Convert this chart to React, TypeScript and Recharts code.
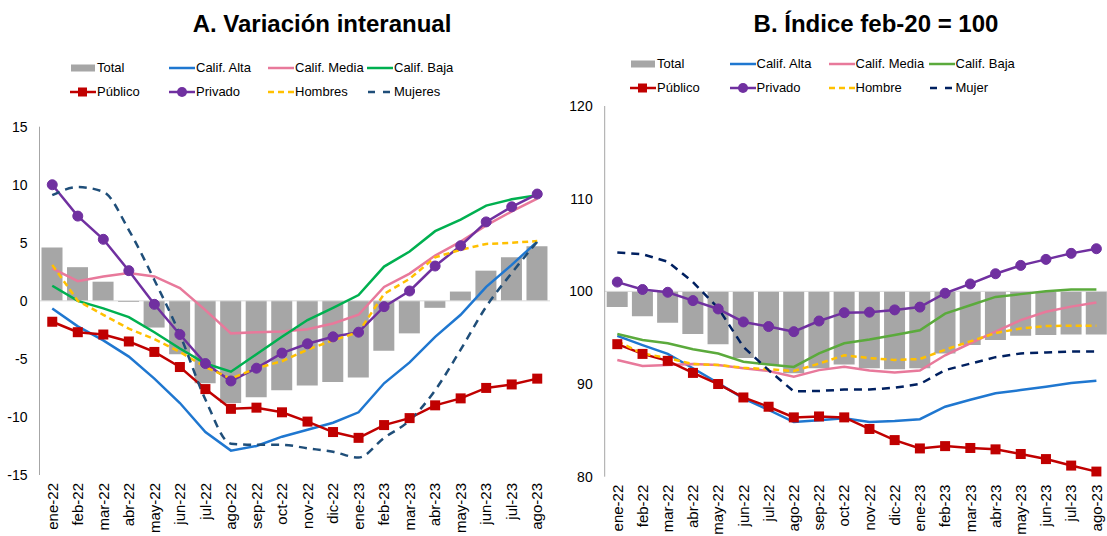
import React from 'react'
import { ComposedChart, Bar, Line, XAxis, YAxis, ReferenceLine } from 'recharts'

const months = ['ene-22', 'feb-22', 'mar-22', 'abr-22', 'may-22', 'jun-22', 'jul-22', 'ago-22', 'sep-22', 'oct-22', 'nov-22', 'dic-22', 'ene-23', 'feb-23', 'mar-23', 'abr-23', 'may-23', 'jun-23', 'jul-23', 'ago-23']

// A. Variación interanual
const totalA = [4.6, 2.9, 1.65, -0.1, -2.3, -4.6, -7.1, -8.8, -8.3, -7.7, -7.3, -7.0, -6.6, -4.3, -2.8, -0.6, 0.8, 2.6, 3.75, 4.7]
const altaA = [-0.65, -2.2, -3.4, -4.8, -6.7, -8.8, -11.3, -12.9, -12.5, -11.7, -11.1, -10.5, -9.6, -7.1, -5.3, -3.1, -1.2, 1.2, 3.1, 5.1]
const mediaA = [2.8, 1.7, 2.1, 2.4, 2.1, 1.1, -0.8, -2.8, -2.7, -2.65, -2.45, -1.95, -1.2, 1.2, 2.35, 3.9, 5.1, 6.5, 7.7, 8.8]
const bajaA = [1.3, 0, -0.65, -1.4, -2.7, -4.1, -5.4, -6.1, -4.6, -3.1, -1.65, -0.6, 0.5, 2.95, 4.25, 6.0, 7.0, 8.2, 8.75, 9.1]
const publicoA = [-1.8, -2.7, -2.9, -3.5, -4.4, -5.7, -7.6, -9.3, -9.2, -9.6, -10.4, -11.3, -11.8, -10.7, -10.1, -9.0, -8.4, -7.5, -7.2, -6.7]
const privadoA = [10.0, 7.3, 5.3, 2.6, -0.3, -2.9, -5.4, -6.9, -5.8, -4.5, -3.7, -3.1, -2.7, -0.5, 0.85, 3.0, 4.75, 6.8, 8.1, 9.2]
const hombresA = [3.1, 0, -1.2, -2.4, -3.3, -4.4, -5.7, -6.7, -5.8, -5.2, -4.2, -3.4, -2.7, 0.6, 1.9, 3.75, 4.4, 4.9, 5.0, 5.15]
const mujeresA = [9.1, 9.8, 9.4, 6.1, 1.8, -2.9, -8.5, -12.3, -12.4, -12.4, -12.7, -13.0, -13.5, -11.8, -10.3, -7.7, -4.2, -0.5, 2.4, 5.1]
const ticksA = [-15, -10, -5, 0, 5, 10, 15]

// B. Índice feb-20 = 100
const totalB = [98.3, 97.3, 96.6, 95.4, 94.3, 92.8, 92.05, 91.15, 91.7, 92.1, 91.7, 91.6, 91.7, 93.3, 94.2, 94.75, 95.2, 95.3, 95.35, 95.35]
const altaB = [95.2, 94.2, 93.25, 91.7, 90.1, 88.45, 87.2, 85.9, 86.1, 86.3, 85.9, 86.0, 86.2, 87.55, 88.3, 89.0, 89.35, 89.7, 90.1, 90.35]
const mediaB = [92.6, 91.95, 92.05, 92.15, 92.05, 91.7, 91.4, 90.8, 91.5, 91.85, 91.45, 91.25, 91.45, 93.1, 94.4, 95.65, 96.9, 97.8, 98.35, 98.8]
const bajaB = [95.4, 94.75, 94.4, 93.75, 93.3, 92.4, 92.1, 91.85, 93.3, 94.4, 94.8, 95.3, 95.8, 97.6, 98.5, 99.4, 99.7, 100.0, 100.2, 100.2]
const publicoB = [94.3, 93.25, 92.5, 91.2, 90.0, 88.55, 87.55, 86.4, 86.5, 86.4, 85.15, 83.95, 83.05, 83.3, 83.1, 82.95, 82.45, 81.9, 81.2, 80.55]
const privadoB = [101.0, 100.2, 99.9, 99.0, 98.1, 96.7, 96.2, 95.65, 96.8, 97.7, 97.75, 98.0, 98.3, 99.8, 100.8, 101.9, 102.8, 103.45, 104.1, 104.6]
const hombreB = [94.6, 93.3, 92.8, 92.15, 92.05, 91.75, 91.6, 91.4, 92.2, 93.1, 92.8, 92.6, 92.7, 93.7, 94.6, 95.5, 96.0, 96.25, 96.3, 96.3]
const mujerB = [104.2, 104.0, 103.2, 101.0, 98.2, 94.0, 91.5, 89.2, 89.25, 89.4, 89.4, 89.6, 90.0, 91.5, 92.2, 92.9, 93.3, 93.4, 93.5, 93.5]
const ticksB = [80, 90, 100, 110, 120]

const FONT = '"Liberation Sans", Arial, sans-serif'
const GREY = '#A6A6A6'
const BLUE = '#1F77D0'
const PINK = '#E8799B'
const RED = '#C00000'
const PURPLE = '#7030A0'
const YELLOW = '#FFC000'

const dataA = months.map((m, i) => ({
  month: m, total: totalA[i], alta: altaA[i], media: mediaA[i], baja: bajaA[i],
  publico: publicoA[i], privado: privadoA[i], hombres: hombresA[i], mujeres: mujeresA[i],
}))
const dataB = months.map((m, i) => ({
  month: m, total: [totalB[i], 100], alta: altaB[i], media: mediaB[i], baja: bajaB[i],
  publico: publicoB[i], privado: privadoB[i], hombres: hombreB[i], mujeres: mujerB[i],
}))

function MonthTick({ x, y, payload }: any) {
  return (
    <g transform={`translate(${x},${y})`}>
      <text transform='rotate(-90)' x={-8} dy='0.35em' textAnchor='end' fontSize={15} fill='#000' fontFamily={FONT}>
        {payload.value}
      </text>
    </g>
  )
}

function SquareDot({ cx, cy, index }: any) {
  return <rect key={`sq-${index}`} x={cx - 5} y={cy - 5} width={10} height={10} fill={RED} />
}

type Swatch = 'bar' | 'line' | 'square' | 'circle' | 'dash' | 'longdash'
interface LegendItem { label: string; color: string; kind: Swatch }

function SwatchIcon({ color, kind }: { color: string; kind: Swatch }) {
  return (
    <svg width={26} height={16} style={{ display: 'block' }}>
      {kind === 'bar' && <rect x={1} y={4.5} width={24} height={7} fill={color} />}
      {kind !== 'bar' && kind !== 'dash' && kind !== 'longdash' && <line x1={0} y1={8} x2={26} y2={8} stroke={color} strokeWidth={2.5} />}
      {kind === 'dash' && <line x1={0} y1={8} x2={26} y2={8} stroke={color} strokeWidth={2.5} strokeDasharray='6 4' />}
      {kind === 'longdash' && <line x1={1} y1={8} x2={26} y2={8} stroke={color} strokeWidth={2.5} strokeDasharray='7 8' />}
      {kind === 'square' && <rect x={8} y={3.5} width={9} height={9} fill={color} />}
      {kind === 'circle' && <circle cx={13} cy={8} r={5} fill={color} />}
    </svg>
  )
}

function LegendBlock({ items, left, top, cols, rowGap, textOffset }: { items: LegendItem[]; left: number; top: number; cols: number[]; rowGap: number; textOffset: number }) {
  return (
    <>
      {items.map((it, i) => (
        <div key={it.label} style={{ position: 'absolute', left: left + cols[i % 4], top: top + Math.floor(i / 4) * rowGap, height: 16, display: 'flex', alignItems: 'center' }}>
          <SwatchIcon color={it.color} kind={it.kind} />
          <span style={{ position: 'absolute', left: textOffset, fontSize: 13, lineHeight: '16px', whiteSpace: 'nowrap', color: '#000' }}>{it.label}</span>
        </div>
      ))}
    </>
  )
}

export default function App() {
  const legendA: LegendItem[] = [
    { label: 'Total', color: GREY, kind: 'bar' },
    { label: 'Calif. Alta', color: BLUE, kind: 'line' },
    { label: 'Calif. Media', color: PINK, kind: 'line' },
    { label: 'Calif. Baja', color: '#00B050', kind: 'line' },
    { label: 'Público', color: RED, kind: 'square' },
    { label: 'Privado', color: PURPLE, kind: 'circle' },
    { label: 'Hombres', color: YELLOW, kind: 'dash' },
    { label: 'Mujeres', color: '#1F4E79', kind: 'longdash' },
  ]
  const legendB: LegendItem[] = [
    { label: 'Total', color: GREY, kind: 'bar' },
    { label: 'Calif. Alta', color: BLUE, kind: 'line' },
    { label: 'Calif. Media', color: PINK, kind: 'line' },
    { label: 'Calif. Baja', color: '#5BAA3C', kind: 'line' },
    { label: 'Público', color: RED, kind: 'square' },
    { label: 'Privado', color: PURPLE, kind: 'circle' },
    { label: 'Hombre', color: YELLOW, kind: 'dash' },
    { label: 'Mujer', color: '#002060', kind: 'longdash' },
  ]

  const yTick = { fontSize: 14, fill: '#000', fontFamily: FONT }

  return (
    <div style={{ position: 'absolute', left: 0, top: 0, width: 1107, height: 536, overflow: 'hidden', background: '#fff', fontFamily: FONT }}>
      <div style={{ position: 'absolute', left: 122, width: 400, top: 12, textAlign: 'center', fontSize: 24, lineHeight: '24px', fontWeight: 'bold' }}>
        A. Variación interanual
      </div>
      <div style={{ position: 'absolute', left: 676, width: 400, top: 12, textAlign: 'center', fontSize: 24, lineHeight: '24px', fontWeight: 'bold' }}>
        B. Índice feb-20 = 100
      </div>
      <LegendBlock items={legendA} left={70} top={60} cols={[0, 99, 198, 297]} rowGap={23.5} textOffset={27} />
      <LegendBlock items={legendB} left={630} top={56} cols={[0, 99.5, 198.5, 298.5]} rowGap={23.5} textOffset={27} />

      <div style={{ position: 'absolute', left: 0, top: 0 }}>
        <ComposedChart width={553} height={536} data={dataA} margin={{ top: 126.7, right: 3, bottom: 0, left: 0 }}>
          <XAxis dataKey='month' height={61} interval={0} tickSize={0} tickMargin={0} axisLine={false} tickLine={false} tick={<MonthTick />} />
          <YAxis width={39.5} domain={[-15, 15]} ticks={ticksA} interval={0} tickSize={0} tickMargin={12} tickLine={false} axisLine={{ stroke: GREY }} tick={yTick} />
          <Bar dataKey='total' fill={GREY} barSize={21} isAnimationActive={false} />
          <ReferenceLine y={0} stroke='#D9D9D9' strokeWidth={1} />
          <Line dataKey='alta' stroke={BLUE} strokeWidth={2.5} dot={false} type='linear' isAnimationActive={false} />
          <Line dataKey='media' stroke={PINK} strokeWidth={2.5} dot={false} type='linear' isAnimationActive={false} />
          <Line dataKey='baja' stroke='#00B050' strokeWidth={2.5} dot={false} type='linear' isAnimationActive={false} />
          <Line dataKey='publico' stroke={RED} strokeWidth={2.5} dot={<SquareDot />} type='linear' isAnimationActive={false} />
          <Line dataKey='privado' stroke={PURPLE} strokeWidth={2.5} dot={{ r: 5, fill: PURPLE, stroke: PURPLE, strokeWidth: 1 }} type='linear' isAnimationActive={false} />
          <Line dataKey='hombres' stroke={YELLOW} strokeWidth={2.5} strokeDasharray='6 4' dot={false} type='linear' isAnimationActive={false} />
          <Line dataKey='mujeres' stroke='#1F4E79' strokeWidth={2.5} strokeDasharray='8 6' dot={false} type='monotone' isAnimationActive={false} />
        </ComposedChart>
      </div>

      <div style={{ position: 'absolute', left: 553, top: 0 }}>
        <ComposedChart width={556} height={536} data={dataB} margin={{ top: 106, right: 0, bottom: 0, left: 0 }}>
          <XAxis dataKey='month' height={59.3} interval={0} tickSize={0} tickMargin={0} axisLine={false} tickLine={false} tick={<MonthTick />} />
          <YAxis width={51.7} domain={[80, 120]} ticks={ticksB} interval={0} tickSize={0} tickMargin={12} tickLine={false} axisLine={{ stroke: GREY }} tick={yTick} allowDataOverflow />
          <Bar dataKey='total' fill={GREY} barSize={21} isAnimationActive={false} />
          <ReferenceLine y={100} stroke='#D9D9D9' strokeWidth={1} />
          <Line dataKey='alta' stroke={BLUE} strokeWidth={2.5} dot={false} type='linear' isAnimationActive={false} />
          <Line dataKey='media' stroke={PINK} strokeWidth={2.5} dot={false} type='linear' isAnimationActive={false} />
          <Line dataKey='baja' stroke='#5BAA3C' strokeWidth={2.5} dot={false} type='linear' isAnimationActive={false} />
          <Line dataKey='publico' stroke={RED} strokeWidth={2.5} dot={<SquareDot />} type='linear' isAnimationActive={false} />
          <Line dataKey='privado' stroke={PURPLE} strokeWidth={2.5} dot={{ r: 5, fill: PURPLE, stroke: PURPLE, strokeWidth: 1 }} type='linear' isAnimationActive={false} />
          <Line dataKey='hombres' stroke={YELLOW} strokeWidth={2.5} strokeDasharray='6 4' dot={false} type='linear' isAnimationActive={false} />
          <Line dataKey='mujeres' stroke='#002060' strokeWidth={2.5} strokeDasharray='8 6' dot={false} type='linear' isAnimationActive={false} />
        </ComposedChart>
      </div>
    </div>
  )
}
